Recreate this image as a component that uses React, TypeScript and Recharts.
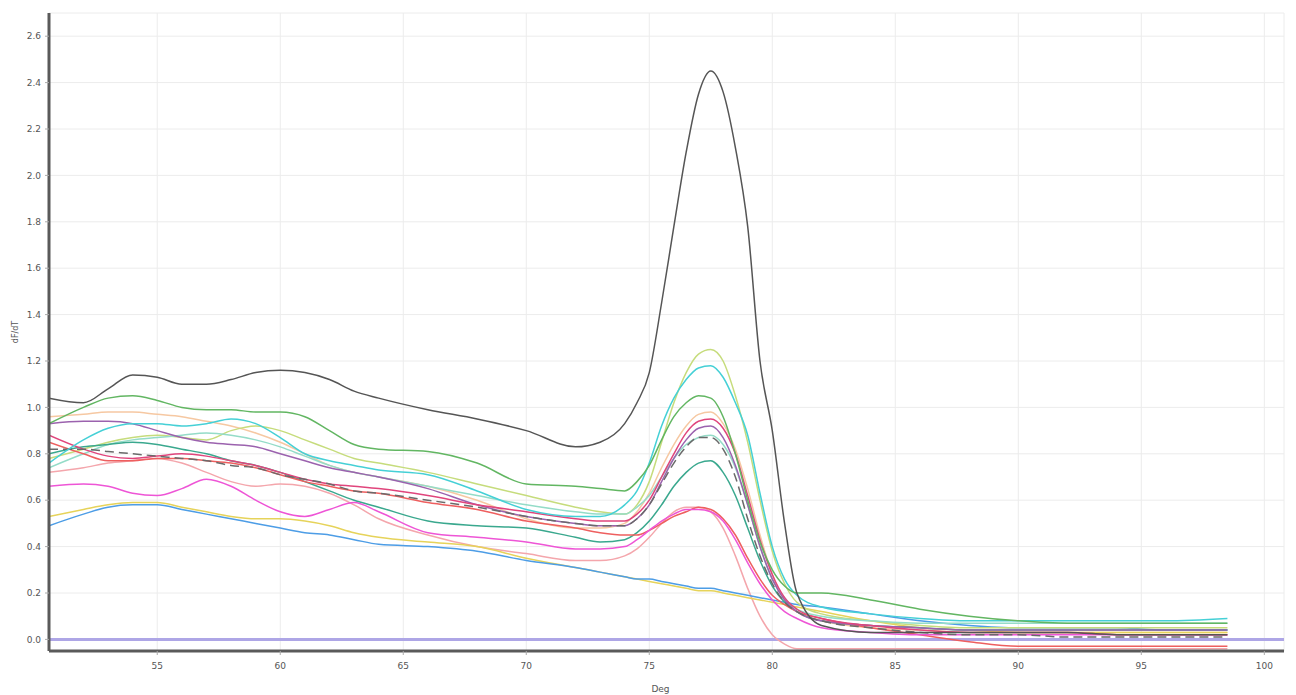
import { LineChart, Line, XAxis, YAxis, CartesianGrid, ReferenceLine } from 'recharts';

// temperature samples (deg C) shared by every melt curve
const TEMPS = [50.6, 52, 53, 54, 55, 56, 57, 58, 59, 60, 61, 62, 63, 64, 66, 68, 70, 72, 73, 74, 74.5, 75, 75.5, 76, 76.5, 77, 77.5, 78, 78.5, 79, 79.5, 80, 80.5, 81, 82, 84, 86, 88, 90, 92, 94, 96, 98.5];

const BLACK = [1.04, 1.02, 1.08, 1.14, 1.13, 1.10, 1.10, 1.12, 1.15, 1.16, 1.15, 1.12, 1.07, 1.04, 0.99, 0.95, 0.90, 0.83, 0.85, 0.93, 1.02, 1.15, 1.45, 1.78, 2.10, 2.35, 2.45, 2.36, 2.12, 1.78, 1.20, 0.90, 0.50, 0.20, 0.06, 0.03, 0.03, 0.03, 0.03, 0.03, 0.02, 0.02, 0.02];
const GREEN = [0.93, 1.00, 1.04, 1.05, 1.03, 1.00, 0.99, 0.99, 0.98, 0.98, 0.96, 0.90, 0.84, 0.82, 0.81, 0.76, 0.67, 0.66, 0.65, 0.64, 0.68, 0.75, 0.86, 0.96, 1.02, 1.05, 1.04, 0.96, 0.80, 0.60, 0.42, 0.30, 0.23, 0.20, 0.20, 0.17, 0.13, 0.10, 0.08, 0.07, 0.07, 0.07, 0.07];
const LIME = [0.78, 0.82, 0.85, 0.87, 0.88, 0.87, 0.86, 0.90, 0.92, 0.90, 0.86, 0.82, 0.78, 0.76, 0.72, 0.67, 0.62, 0.57, 0.55, 0.54, 0.58, 0.68, 0.85, 1.02, 1.15, 1.23, 1.25, 1.20, 1.05, 0.85, 0.60, 0.38, 0.24, 0.16, 0.11, 0.08, 0.06, 0.05, 0.05, 0.05, 0.05, 0.05, 0.05];
const CYAN = [0.76, 0.86, 0.91, 0.93, 0.93, 0.92, 0.93, 0.95, 0.93, 0.87, 0.80, 0.77, 0.75, 0.73, 0.71, 0.64, 0.56, 0.53, 0.53, 0.58, 0.64, 0.76, 0.92, 1.04, 1.12, 1.17, 1.18, 1.13, 1.02, 0.88, 0.63, 0.40, 0.26, 0.19, 0.14, 0.11, 0.09, 0.08, 0.08, 0.08, 0.08, 0.08, 0.09];
const MINT = [0.74, 0.80, 0.84, 0.86, 0.87, 0.88, 0.89, 0.88, 0.86, 0.83, 0.79, 0.75, 0.72, 0.70, 0.66, 0.62, 0.58, 0.55, 0.54, 0.54, 0.57, 0.62, 0.70, 0.78, 0.84, 0.87, 0.88, 0.84, 0.74, 0.58, 0.40, 0.26, 0.18, 0.13, 0.10, 0.08, 0.07, 0.07, 0.07, 0.07, 0.07, 0.07, 0.07];
const TEAL = [0.80, 0.83, 0.84, 0.85, 0.84, 0.82, 0.80, 0.77, 0.75, 0.72, 0.68, 0.64, 0.60, 0.57, 0.51, 0.49, 0.48, 0.44, 0.42, 0.43, 0.46, 0.51, 0.58, 0.66, 0.72, 0.76, 0.77, 0.72, 0.62, 0.48, 0.34, 0.23, 0.16, 0.12, 0.08, 0.06, 0.05, 0.04, 0.04, 0.04, 0.04, 0.04, 0.04];
const PURPLE = [0.93, 0.94, 0.94, 0.93, 0.90, 0.87, 0.85, 0.84, 0.83, 0.80, 0.77, 0.74, 0.72, 0.70, 0.65, 0.58, 0.53, 0.50, 0.49, 0.49, 0.52, 0.58, 0.68, 0.78, 0.86, 0.91, 0.92, 0.87, 0.75, 0.58, 0.40, 0.26, 0.17, 0.12, 0.08, 0.06, 0.05, 0.04, 0.04, 0.04, 0.04, 0.04, 0.04];
const CRIMSON = [0.88, 0.82, 0.79, 0.78, 0.79, 0.80, 0.79, 0.77, 0.75, 0.72, 0.69, 0.67, 0.66, 0.65, 0.62, 0.58, 0.55, 0.52, 0.51, 0.51, 0.54, 0.60, 0.70, 0.80, 0.89, 0.94, 0.95, 0.91, 0.80, 0.62, 0.43, 0.28, 0.18, 0.13, 0.09, 0.06, 0.04, 0.03, 0.03, 0.03, 0.02, 0.02, 0.02];
const DASHED = [0.82, 0.82, 0.81, 0.80, 0.79, 0.78, 0.77, 0.75, 0.74, 0.71, 0.69, 0.67, 0.64, 0.63, 0.60, 0.57, 0.53, 0.50, 0.49, 0.49, 0.52, 0.58, 0.67, 0.76, 0.83, 0.87, 0.87, 0.82, 0.70, 0.52, 0.36, 0.24, 0.16, 0.12, 0.08, 0.05, 0.03, 0.02, 0.02, 0.01, 0.01, 0.01, 0.01];
const RED = [0.85, 0.80, 0.77, 0.77, 0.78, 0.78, 0.77, 0.76, 0.74, 0.71, 0.68, 0.66, 0.64, 0.63, 0.59, 0.56, 0.51, 0.48, 0.46, 0.45, 0.45, 0.47, 0.50, 0.53, 0.55, 0.57, 0.56, 0.52, 0.45, 0.35, 0.26, 0.19, 0.15, 0.12, 0.09, 0.05, 0.02, -0.01, -0.03, -0.03, -0.03, -0.03, -0.03];
const MAGENTA = [0.66, 0.67, 0.66, 0.63, 0.62, 0.65, 0.69, 0.66, 0.60, 0.55, 0.53, 0.56, 0.59, 0.55, 0.46, 0.44, 0.42, 0.39, 0.39, 0.40, 0.43, 0.47, 0.51, 0.54, 0.56, 0.56, 0.55, 0.51, 0.43, 0.33, 0.24, 0.17, 0.12, 0.09, 0.05, 0.03, 0.02, 0.02, 0.02, 0.02, 0.02, 0.02, 0.02];
const PEACH = [0.96, 0.97, 0.98, 0.98, 0.97, 0.96, 0.94, 0.92, 0.89, 0.85, 0.80, 0.75, 0.72, 0.70, 0.66, 0.60, 0.52, 0.48, 0.48, 0.50, 0.55, 0.63, 0.74, 0.84, 0.92, 0.97, 0.98, 0.93, 0.82, 0.65, 0.45, 0.28, 0.17, 0.12, 0.08, 0.05, 0.04, 0.03, 0.03, 0.03, 0.03, 0.03, 0.03];
const PINK = [0.72, 0.74, 0.76, 0.77, 0.78, 0.76, 0.72, 0.68, 0.66, 0.67, 0.66, 0.63, 0.58, 0.52, 0.45, 0.40, 0.37, 0.34, 0.34, 0.36, 0.39, 0.44, 0.50, 0.55, 0.57, 0.57, 0.55, 0.48, 0.36, 0.22, 0.10, 0.02, -0.02, -0.04, -0.04, -0.04, -0.04, -0.04, -0.04, -0.04, -0.04, -0.04, -0.04];
const YELLOW = [0.53, 0.56, 0.58, 0.59, 0.59, 0.57, 0.55, 0.53, 0.52, 0.52, 0.51, 0.49, 0.46, 0.44, 0.42, 0.40, 0.35, 0.31, 0.29, 0.27, 0.26, 0.25, 0.24, 0.23, 0.22, 0.21, 0.21, 0.20, 0.19, 0.18, 0.17, 0.16, 0.15, 0.14, 0.12, 0.08, 0.05, 0.04, 0.03, 0.03, 0.03, 0.03, 0.03];
const BLUE = [0.49, 0.54, 0.57, 0.58, 0.58, 0.56, 0.54, 0.52, 0.50, 0.48, 0.46, 0.45, 0.43, 0.41, 0.40, 0.38, 0.34, 0.31, 0.29, 0.27, 0.26, 0.26, 0.25, 0.24, 0.23, 0.22, 0.22, 0.21, 0.20, 0.19, 0.18, 0.17, 0.16, 0.15, 0.14, 0.11, 0.08, 0.06, 0.05, 0.05, 0.05, 0.04, 0.04];

const X_TICKS = [55, 60, 65, 70, 75, 80, 85, 90, 95, 100];
const Y_TICKS = [0, 0.2, 0.4, 0.6, 0.8, 1.0, 1.2, 1.4, 1.6, 1.8, 2.0, 2.2, 2.4, 2.6];

const SERIES = [
  { key: 'peach', values: PEACH, color: '#f6c8a2' },
  { key: 'pink', values: PINK, color: '#f4a6ac' },
  { key: 'yellow', values: YELLOW, color: '#e6d35a' },
  { key: 'blue', values: BLUE, color: '#4d9de6' },
  { key: 'lime', values: LIME, color: '#c6dc7c' },
  { key: 'mint', values: MINT, color: '#94dcc8' },
  { key: 'teal', values: TEAL, color: '#3aa88e' },
  { key: 'red', values: RED, color: '#ee5f5f' },
  { key: 'magenta', values: MAGENTA, color: '#ee55d6' },
  { key: 'purple', values: PURPLE, color: '#9b62ae' },
  { key: 'crimson', values: CRIMSON, color: '#e0457c' },
  { key: 'dashed', values: DASHED, color: '#6a6a6a', dash: '9 5' },
  { key: 'cyan', values: CYAN, color: '#45d0d6' },
  { key: 'green', values: GREEN, color: '#62b662' },
  { key: 'black', values: BLACK, color: '#555555' },
];

const data = TEMPS.map((t, i) => {
  const row: any = { t };
  SERIES.forEach((s) => { row[s.key] = s.values[i]; });
  return row;
});

const tickStyle = { fill: '#555', fontSize: 9, fontFamily: 'DejaVu Sans, sans-serif' };

export default function App() {
  return (
    <div style={{ width: 1280, height: 687, background: '#fff' }}>
      <LineChart width={1280} height={687} data={data} margin={{ top: 5, right: 4, bottom: 0, left: 0 }}>
        <CartesianGrid stroke="#ececec" strokeWidth={1} />
        <XAxis
          dataKey="t"
          type="number"
          domain={[50.6, 100.8]}
          ticks={X_TICKS}
          allowDataOverflow
          height={44}
          tickSize={4}
          tickMargin={8}
          stroke="#5a5a5a"
          strokeWidth={3}
          tickLine={{ stroke: '#aaa', strokeWidth: 1 }}
          tick={tickStyle}
          label={{ value: 'Deg', position: 'insideBottom', offset: 3, dx: -6, style: { fill: '#555', fontSize: 9, fontFamily: 'DejaVu Sans, sans-serif' } }}
        />
        <XAxis xAxisId="top" orientation="top" dataKey="t" type="number" domain={[50.6, 100.8]} height={0} tick={false} tickLine={false} stroke="#8a8a8a" strokeWidth={2} />
        <YAxis
          type="number"
          domain={[-0.05, 2.7]}
          ticks={Y_TICKS}
          allowDataOverflow
          width={41}
          tickSize={4}
          tickMargin={4}
          stroke="#5a5a5a"
          strokeWidth={3}
          tickLine={{ stroke: '#aaa', strokeWidth: 1 }}
          tick={tickStyle}
          tickFormatter={(v: number) => v.toFixed(1)}
          label={{ value: 'dF/dT', angle: -90, position: 'insideLeft', offset: 7, style: { textAnchor: 'middle', fill: '#555', fontSize: 8, fontFamily: 'DejaVu Sans, sans-serif' } }}
        />
        <YAxis yAxisId="right" orientation="right" domain={[-0.05, 2.7]} width={0} tick={false} tickLine={false} stroke="#a0a0a0" strokeWidth={2} />
        <ReferenceLine y={0} stroke="#aea6e6" strokeWidth={3} />
        {SERIES.map((s) => (
          <Line
            key={s.key}
            dataKey={s.key}
            type="monotone"
            stroke={s.color}
            strokeWidth={1.5}
            strokeDasharray={s.dash}
            dot={false}
            isAnimationActive={false}
          />
        ))}
      </LineChart>
    </div>
  );
}
